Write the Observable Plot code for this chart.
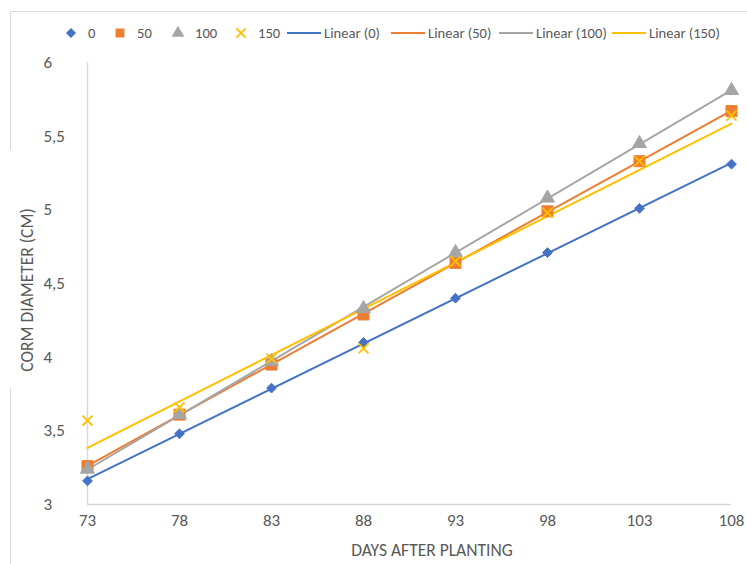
<!DOCTYPE html>
<html>
<head>
<meta charset="utf-8">
<script src="https://cdn.jsdelivr.net/npm/d3@7"></script>
<script src="https://cdn.jsdelivr.net/npm/@observablehq/plot@0.6"></script>
<style>
  body { margin: 0; background: #fff; }
  #wrap { position: relative; width: 747px; height: 564px; overflow: hidden; font-family: Carlito, "Liberation Sans Narrow", Lato, sans-serif; color: #595959; }
  #frame { position: absolute; left: 10px; top: 11px; width: 800px; height: 600px; border: 1.5px solid #d9d9d9; }
  #legend { position: absolute; top: 24px; left: 0; height: 18px; width: 747px; font-size: 14.6px; }
  .li { position: absolute; top: 0; display: flex; align-items: center; height: 18px; white-space: nowrap; }
  #chart { position: absolute; left: 0; top: 50px; }
  #ylab { position: absolute; left: 10px; top: 150px; width: 32px; height: 238px; background: #fff; }
  #ylab span { position: absolute; left: 17px; top: 140px; transform: translate(-50%, -50%) rotate(-90deg); font-size: 17.5px; white-space: nowrap; }
  #xlab { position: absolute; left: 432px; top: 550px; transform: translate(-50%, -50%); font-size: 17.5px; white-space: nowrap; }
</style>
</head>
<body>
<div id="wrap">
  <div id="frame"></div>
  <div id="legend"></div>
  <div id="chart"></div>
  <div id="ylab"><span>CORM DIAMETER (CM)</span></div>
  <div id="xlab">DAYS AFTER PLANTING</div>
</div>
<script>
// Data
const days = [73, 78, 83, 88, 93, 98, 103, 108];
const s0   = [3.16, 3.48, 3.79, 4.10, 4.40, 4.71, 5.01, 5.31];
const s50  = [3.26, 3.61, 3.95, 4.29, 4.64, 4.99, 5.33, 5.67];
const s100 = [3.24, 3.61, 3.97, 4.33, 4.71, 5.08, 5.45, 5.81];
const s150 = [3.57, 3.66, 3.99, 4.06, 4.65, 4.98, 5.33, 5.64];
const seriesNames = ["0", "50", "100", "150"];
const yTicks = [3, 3.5, 4, 4.5, 5, 5.5, 6];

const colors = ["#4472C4", "#ED7D31", "#A5A5A5", "#FFC000"];
const symbols = ["diamond2", "square", "triangle", "times"];
const radii = [4.4, 6.2, 5.2, 4.6];
const values = [s0, s50, s100, s150];

const rows = [];
seriesNames.forEach((name, i) => {
  days.forEach((d, j) => rows.push({series: name, day: d, value: values[i][j]}));
});

const marks = [
  Plot.ruleX([73], {stroke: "#d9d9d9", strokeWidth: 1.5}),
  Plot.ruleY([3], {stroke: "#d9d9d9", strokeWidth: 1.5}),
  Plot.axisY({ticks: yTicks, tickSize: 0, tickPadding: 0, textAnchor: "start", dx: -44,
    tickFormat: d => String(d).replace(".", ","), label: null, fontSize: 17, fill: "#595959"}),
  Plot.axisX({ticks: days, tickSize: 0, tickPadding: 9, tickFormat: d => String(d),
    label: null, fontSize: 17, fill: "#595959"})
];
seriesNames.forEach((name, i) => {
  marks.push(Plot.linearRegressionY(rows.filter(r => r.series === name),
    {x: "day", y: "value", stroke: colors[i], strokeWidth: 2, ci: 0}));
});
seriesNames.forEach((name, i) => {
  const sub = rows.filter(r => r.series === name);
  if (symbols[i] === "times") {
    marks.push(Plot.dot(sub, {x: "day", y: "value", symbol: "times", r: radii[i], stroke: colors[i], strokeWidth: 1.8, fill: "none"}));
  } else {
    marks.push(Plot.dot(sub, {x: "day", y: "value", symbol: symbols[i], r: radii[i], fill: colors[i], stroke: colors[i], strokeWidth: 1}));
  }
});

const chart = Plot.plot({
  width: 747,
  height: 514,
  marginTop: 12,
  marginBottom: 60,
  marginLeft: 87,
  marginRight: 16,
  style: {fontFamily: 'Carlito, "Liberation Sans Narrow", Lato, sans-serif', background: "transparent"},
  x: {domain: [73, 108]},
  y: {domain: [3, 6]},
  marks
});
document.getElementById("chart").appendChild(chart);

// Legend
const legend = d3.select("#legend");
const items = [
  {x: 64, type: "dot", i: 0, label: "0"},
  {x: 113, type: "dot", i: 1, label: "50"},
  {x: 171, type: "dot", i: 2, label: "100"},
  {x: 234, type: "dot", i: 3, label: "150"},
  {x: 287, type: "line", i: 0, label: "Linear (0)"},
  {x: 391, type: "line", i: 1, label: "Linear (50)"},
  {x: 499, type: "line", i: 2, label: "Linear (100)"},
  {x: 612, type: "line", i: 3, label: "Linear (150)"}
];
const symMap = {diamond2: d3.symbolDiamond2, square: d3.symbolSquare, triangle: d3.symbolTriangle, times: d3.symbolTimes};
const symSize = [65, 80, 70, 60];
items.forEach(it => {
  const div = legend.append("div").attr("class", "li").style("left", it.x + "px");
  if (it.type === "dot") {
    const svg = div.append("svg").attr("width", 14).attr("height", 14).style("margin-right", 10);
    const p = svg.append("path").attr("transform", "translate(7,7)")
      .attr("d", d3.symbol(symMap[symbols[it.i]], symSize[it.i])());
    if (symbols[it.i] === "times") p.attr("fill", "none").attr("stroke", colors[it.i]).attr("stroke-width", 1.8);
    else p.attr("fill", colors[it.i]);
  } else {
    const svg = div.append("svg").attr("width", 34).attr("height", 14).style("margin-right", 3);
    svg.append("line").attr("x1", 0).attr("x2", 34).attr("y1", 7).attr("y2", 7)
      .attr("stroke", colors[it.i]).attr("stroke-width", 2.2);
  }
  div.append("span").text(it.label);
});
</script>
</body>
</html>
